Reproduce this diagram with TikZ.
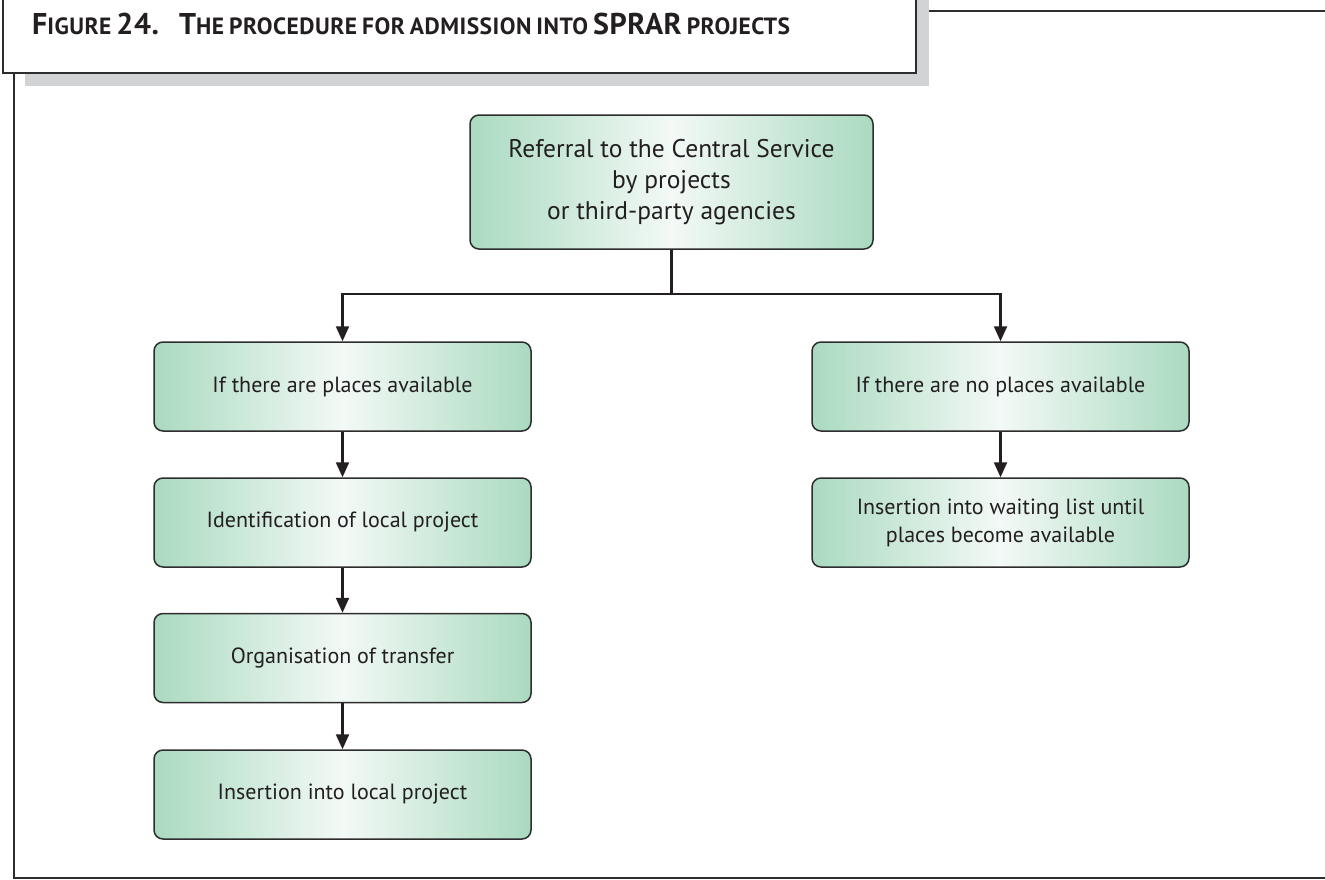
\documentclass[tikz,border=0pt]{standalone}
\usepackage{fontspec}
\setmainfont{PT Sans}
\newfontfamily\titlefont[LetterSpace=2]{PT Sans}
\usetikzlibrary{arrows.meta,positioning}

\definecolor{boxgreen}{RGB}{170,218,192}
\definecolor{boxwhite}{RGB}{243,249,246}
\definecolor{framegray}{RGB}{45,45,45}
\definecolor{shadowgray}{RGB}{209,211,212}
\definecolor{inkgray}{RGB}{35,31,32}

\newcommand\grand[1]{{\fontsize{30}{30}\selectfont #1}}
\newcommand\petit[1]{{\fontsize{23.5}{23.5}\selectfont #1}}

\tikzset{etape/.style = {draw = framegray, line width = 1.5pt, rounded corners = 9pt,
                         left color = boxgreen, right color = boxgreen, middle color = boxwhite,
                         minimum width = 377pt, minimum height = 89pt,
                         align = center, text = inkgray,
                         font = \fontsize{22}{28}\selectfont},
         fleche/.style = {draw = inkgray, line width = 2.2pt,
                          -{Triangle[length=15pt, width=13pt]}},
         trait/.style = {draw = inkgray, line width = 2.2pt},
         cadre/.style = {draw = framegray, line width = 2.2pt}
        }

\begin{document}
\begin{tikzpicture}[x=1pt, y=-1pt]
  \useasboundingbox (0,0) rectangle (1325,879);
  % title box with its shadow
  \fill[shadowgray] (25,-10) rectangle (929,86);
  \draw[cadre, fill = white] (3,-10) rectangle (916,73);
  \draw[cadre] (929,11) -- (1330,11);
  \draw[cadre] (14,73) -- (14,878) -- (1330,878);
  \node[anchor = base west, text = inkgray, font = \titlefont\bfseries, inner sep = 0pt]
    (titre) at (32,34)
    {\grand{F}\petit{IGURE}\enspace\grand{24.}\qquad\grand{T}\petit{HE}\enspace\petit{PROCEDURE}\enspace
     \petit{FOR}\enspace\petit{ADMISSION}\enspace\petit{INTO}\enspace\grand{SPRAR}\enspace\petit{PROJECTS}};

  \node[etape, minimum width = 403pt, minimum height = 134pt,
        font = \fontsize{25.5}{31}\selectfont] (renvoi) at (671.5,182)
    {Referral to the Central Service\\ by projects\\ or third-party agencies};
  \node[etape] (dispo)    at (342.5,386.5) {If there are places available};
  \node[etape] (ident)    at (342.5,522.5) {Identification of local project};
  \node[etape] (transfer) at (342.5,658)   {Organisation of transfer};
  \node[etape] (insert)   at (342.5,794.5) {Insertion into local project};
  \node[etape] (nodispo)  at (1000.5,386.5) {If there are no places available};
  \node[etape] (attente)  at (1000.5,522.5) {Insertion into waiting list until\\ places become available};

  \coordinate (split) at (671.5,294);
  \draw[trait]  (renvoi) -- (split);
  \draw[fleche] (split) -| (dispo.north);
  \draw[fleche] (split) -| (nodispo.north);
  \draw[fleche] (dispo) -- (ident);
  \draw[fleche] (ident) -- (transfer);
  \draw[fleche] (transfer) -- (insert);
  \draw[fleche] (nodispo) -- (attente);
\end{tikzpicture}
\end{document}
